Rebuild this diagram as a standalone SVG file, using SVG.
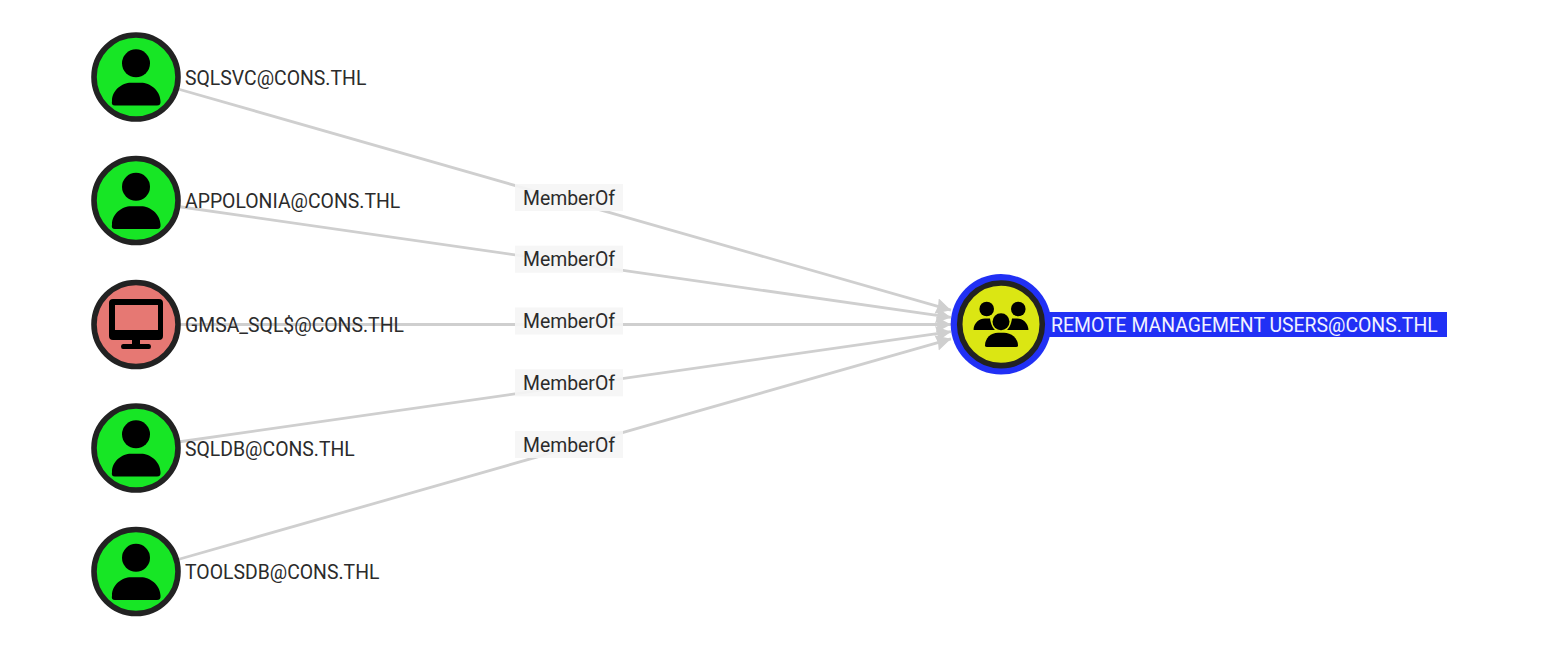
<svg xmlns="http://www.w3.org/2000/svg" xmlns:xlink="http://www.w3.org/1999/xlink" width="1558" height="647" viewBox="0 0 1558 647">
<style>
text{font-family:Roboto,"Liberation Sans",sans-serif;font-size:19.400px;fill:#2b2b2b}
.ring{stroke:#222;stroke-width:5.600}
.user{fill:#17e625}
.comp{fill:#e67873}
.edge{stroke:#cfcfcf;stroke-width:2.800;fill:none;marker-end:url(#arrow)}
.lb{fill:#f5f5f5;fill-opacity:.92}
</style>
<defs>
<marker id="arrow" markerUnits="userSpaceOnUse" markerWidth="18" markerHeight="18" refX="15" refY="8" orient="auto" viewBox="0 0 18 18"><path d="M0 0L15 8L0 16L1.500 8Z" fill="#cfcfcf"/></marker>
<g id="person"><circle cx="0" cy="-13.700" r="14"/><path d="M-24 24C-24 13-14 5.700-5 5.700H5C14 5.700 24 13 24.500 24Q25 28.500 21 28.500H-21Q-25 28.500-24 24Z"/></g>
</defs>
<rect width="1558" height="647" fill="#fff"/>
<g id="connectors">
<path class="edge" d="M178 89L951 310.200"/>
<path class="edge" d="M178 206.500L951 317.400"/>
<path class="edge" d="M178 324.500H951"/>
<path class="edge" d="M178 442L951 331.700"/>
<path class="edge" d="M178 559.500L951 338.800"/>
</g>
<g id="edge-labels">
<g><rect class="lb" x="515" y="184" width="108" height="27"/><text x="569" y="204.500" text-anchor="middle">MemberOf</text></g>
<g><rect class="lb" x="515" y="245.700" width="108" height="27"/><text x="569" y="265.500" text-anchor="middle">MemberOf</text></g>
<g><rect class="lb" x="515" y="307.500" width="108" height="27"/><text x="569" y="327.500" text-anchor="middle">MemberOf</text></g>
<g><rect class="lb" x="515" y="369.300" width="108" height="27"/><text x="569" y="389.500" text-anchor="middle">MemberOf</text></g>
<g><rect class="lb" x="515" y="431" width="108" height="27"/><text x="569" y="451.500" text-anchor="middle">MemberOf</text></g>
</g>
<g id="node-sqlsvc"><circle class="ring user" cx="136" cy="77" r="42"/><use xlink:href="#person" href="#person" x="136" y="77"/><text x="185" y="84.500">SQLSVC@CONS.THL</text></g>
<g id="node-appolonia"><circle class="ring user" cx="136" cy="200.500" r="42"/><use xlink:href="#person" href="#person" x="136" y="200.500"/><text x="185" y="207.500">APPOLONIA@CONS.THL</text></g>
<g id="node-gmsa"><circle class="ring comp" cx="136" cy="324.500" r="42"/>
<path fill-rule="evenodd" d="M113 299H159Q163 299 163 303V336Q163 340 159 340H140V344H149Q151 344 151 346.500Q151 349 149 349H123Q121 349 121 346.500Q121 344 123 344H132V340H113Q109 340 109 336V303Q109 299 113 299ZM115 305V330H158V305Z"/>
<text x="185" y="331.500">GMSA_SQL$@CONS.THL</text></g>
<g id="node-sqldb"><circle class="ring user" cx="136" cy="448" r="42"/><use xlink:href="#person" href="#person" x="136" y="448"/><text x="185" y="455.500">SQLDB@CONS.THL</text></g>
<g id="node-toolsdb"><circle class="ring user" cx="136" cy="571.500" r="42"/><use xlink:href="#person" href="#person" x="136" y="571.500"/><text x="185" y="578.500">TOOLSDB@CONS.THL</text></g>
<g id="node-rmu">
<rect x="1020" y="312" width="427" height="25" fill="#2130f5"/>
<circle cx="1001" cy="324.300" r="50.300" fill="#2130f5"/>
<circle cx="1001" cy="324.300" r="41.300" fill="#dbe613" stroke="#222" stroke-width="5.600"/>
<circle cx="986.700" cy="309" r="7.300"/><circle cx="1018.300" cy="309" r="7.300"/>
<path d="M973.500 329.500C974 323 979 318.500 985 318.500H990C991 325 993 328 995 330H975Q973.500 330 973.500 329.500ZM1028.500 329.500C1028 323 1023 318.500 1017 318.500H1012C1011 325 1009 328 1007 330H1027Q1028.500 330 1028.500 329.500Z"/>
<circle cx="1001" cy="321.700" r="8.500"/>
<path d="M985 345.500C985 338 991 332.700 998 332.700H1004C1011 332.700 1018 338 1018 345.500Q1018 347 1016 347H987Q985 347 985 345.500Z"/>
<text x="1051" y="331.500" style="fill:#f2f2ff">REMOTE MANAGEMENT USERS@CONS.THL</text></g>
</svg>
